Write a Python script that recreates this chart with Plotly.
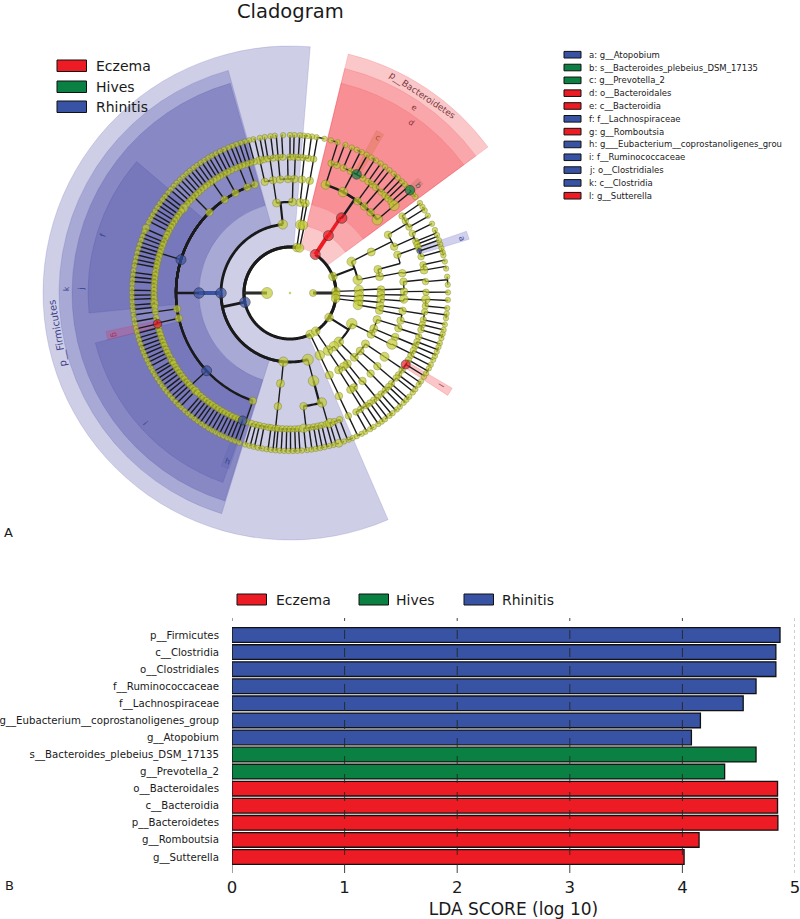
import math
import plotly.graph_objects as go

# ---------- LDA bar data ----------
taxa = ["p__Firmicutes", "c__Clostridia", "o__Clostridiales", "f__Ruminococcaceae", "f__Lachnospiraceae",
        "g__Eubacterium__coprostanoligenes_group", "g__Atopobium", "s__Bacteroides_plebeius_DSM_17135",
        "g__Prevotella_2", "o__Bacteroidales", "c__Bacteroidia", "p__Bacteroidetes", "g__Romboutsia", "g__Sutterella"]
lda_rhinitis = [4.867, 4.83, 4.83, 4.654, 4.54, 4.16, 4.08]
lda_hives = [4.654, 4.375]
lda_eczema = [4.845, 4.845, 4.848, 4.148, 4.015]
groups = ["Eczema", "Hives", "Rhinitis"]
group_color = {"Eczema": "#ed1c24", "Hives": "#0b8043", "Rhinitis": "#3953a4"}
x_ticks = [0, 1, 2, 3, 4, 5]

# ---------- legend of the cladogram ----------
key_labels = ["a: g__Atopobium", "b: s__Bacteroides_plebeius_DSM_17135", "c: g__Prevotella_2", "d: o__Bacteroidales",
              "e: c__Bacteroidia", "f: f__Lachnospiraceae", "g: g__Romboutsia",
              "h: g___Eubacterium__coprostanoligenes_grou", "i: f__Ruminococcaceae", "j: o__Clostridiales",
              "k: c__Clostridia", "l: g__Sutterella"]
key_groups = ["Rhinitis", "Hives", "Hives", "Eczema", "Eczema", "Rhinitis", "Eczema", "Rhinitis", "Rhinitis",
              "Rhinitis", "Rhinitis", "Eczema"]

# ---------- cladogram tree: angle of each node on its ring (degrees), keyed by parent angle ----------
ring_radius = [23, 46, 69, 91, 114, 136, 158]
kingdoms = [180, 0]
phylum_children = {180: [191.5, 81.5, 78, -64], 0: [56.7, 21, 2, -3, -7, -32, -56]}
class_children = {191.5: [96, 180, 264.5, 285], 56.7: [56.2], 81.5: [81.4], 78: [79.2], 21: [27, 11], 2: [2.5],
                  -3: [-2], -7: [-6, -10], -32: [-26.4, -45], -56: [-50.5, -56.6], -64: [-64.4]}
order_children = {96: [98.5, 88.5], 180: [180], 264.5: [264], 285: [285], 56.2: [55.4], 81.4: [83.6], 79.2: [80.3],
                  27: [26.8], 11: [15, 10.4], 2.5: [2], -2: [-1], -6: [-4], -10: [-8, -11], -26.4: [-17, -23, -27],
                  -45: [-34, -39.6, -45], -50.5: [-51], -56.6: [-54, -57.7], -64.4: [-64.4]}
family_children = {98.5: [102.8, 98.5], 88.5: [95, 91, 87.8], 83.6: [84], 80.3: [80],
                   180: [108, 112, 118.6, 125, 135, 163, 188, 192.8, 223, 251], 264: [263.9], 285: [276.8, 286.2],
                   55.4: [71.8, 62.3, 53.7, 49.4, 45, 40], 26.8: [30.7, 24], 15: [19.6], 10.4: [10], 2: [5.7],
                   -1: [0.7], -4: [-3], -8: [-9], -11: [-14], -17: [-18], -23: [-22.7], -27: [-26.6], -34: [-34],
                   -39.6: [-40], -45: [-45], -51: [-50.5], -54: [-55.9], -57.7: [-58], -64.4: [-64.6]}
genus_children = {102.8: [102.9, 101], 98.5: [99.3, 97], 95: [95, 93], 91: [90, 88.5], 87.8: [86.5, 84.5], 84: [82.2],
                  80: [80], 108: [105.2, 107, 108.7], 112: [110.4, 112, 113.8],
                  118.6: [115.6, 117.3, 119, 120.8, 122.3], 125: [124, 125.7, 127.4],
                  135: [129, 130.7, 132.4, 134, 135.8, 137.5, 139.2],
                  163: [141.4, 143, 144.8, 146.3, 148, 149.7, 151.2, 153, 154.6, 156, 158, 159.5, 161.2, 162.8, 164.3,
                        166, 167.7, 169.2, 171, 172.5, 174.2, 175.8, 177.5, 179, 180.8, 182.3, 184.4, 186],
                  188: [188], 192.8: [190.5, 193.1],
                  223: [194.8, 196.5, 198, 199.7, 201.3, 202.8, 204.5, 206, 207.7, 209.9, 211.2, 212.9, 214.4, 216,
                        217.7, 219.2, 221, 222.5, 224.2, 226, 227.3, 229, 230.5, 232.2, 233.8, 235.3, 237, 238.6,
                        240.2, 241.8, 243.4, 245, 246.6, 248, 249.6],
                  251: [251.2], 263.9: [253.6, 255.4, 257, 259, 260.8, 262, 263.8, 265, 266.8, 268.6, 270.2, 272, 273.6],
                  276.8: [275.8, 278, 280, 281.8, 283.5], 286.2: [285.5, 287, 289, 291.4],
                  71.8: [72.4, 69.8], 62.3: [66.9, 63.5, 60.7, 57.6], 53.7: [55, 52.8], 49.4: [50.9, 47.8],
                  45: [45.7, 44], 40: [42, 40], 30.7: [34.5, 32, 29], 24: [26, 22.3], 19.6: [21, 19.6, 18, 15.5],
                  10: [12, 9.7], 5.7: [4.8], 0.7: [0.3], -3: [-2.7, -5.5], -9: [-8, -11.4], -14: [-13.5, -15.7],
                  -18: [-18.8], -22.7: [-21, -23], -26.6: [-25, -27.3], -34: [-29.5, -31.7, -34.5, -37],
                  -40: [-38.7, -41.8], -45: [-43.5, -45.5, -48], -50.5: [-50, -52], -55.9: [-54, -56, -58.7],
                  -58: [-61], -64.6: [-64.6]}
species = [77.4, 80.3, 82, 83.5, 85, 86.4, 88.4, 90, 92.5, 95.5, 97.1, 99.2, 101, 103.4,
           105, 106.6, 108.2, 109.9, 111.5, 113, 114.7, 116.3, 118, 119.6, 121.1, 122.8, 124.4, 126.1, 127.6, 129.3,
           130.9, 132.5, 134.2, 135.8, 137.3, 139, 140.6, 142.3, 143.8, 145.5, 147.1, 148.7, 150.4, 152, 153.5, 155.7,
           157.2, 158.9, 160.4, 162.1, 163.7, 165.3, 167, 168.6, 170.1, 171.8, 173.4, 175.1, 176.6, 178.3, 179.9,
           181.5, 183.2, 184.8, 186.3, 188, 189.6, 191.2, 192.8, 194.3, 195.9, 197.4, 198.9, 200.5, 202, 203.5, 205.1,
           206.6, 208.2, 209.7, 211.2, 212.8, 214.3, 215.9, 217.4, 218.9, 220.5, 222, 223.6, 225.1, 226.6, 228.2,
           229.7, 231.3, 232.8, 234.3, 235.9, 237.4, 239, 240.5, 242, 243.6, 245.1, 246.7, 248.2, 249.7, 251.3,
           253.5, 255.1, 256.7, 258.3, 259.9, 261.5, 263.1, 264.7, 266.3, 267.9, 269.5, 271.1, 272.7, 274.3, 276.2,
           277.8, 279.4, 281, 282.6, 284.4, 286, 288, 290, 291.8, 293.4, 295,
           -63, -61.5, -59.5, -58, -56, -54.5, -53, -51, -49.5, -47.5, -46, -44, -42.5, -41, -39, -37.5, -35.5, -34,
           -32, -30.5, -28.5, -27, -25, -23.5, -21.8, -20, -18.5, -16.6, -15, -13.5, -11.5, -9.2, -7.5, -5.5, -2.5,
           0.2, 3, 5.9, 8.9, 11.5, 13.8, 15, 16.5, 18, 19.5, 21.5, 23.5, 26, 29.3, 31.5, 33, 34.7,
           37.5, 39, 40.6, 42, 43.5, 45, 47, 49, 51, 53, 55, 57, 59, 61, 63, 65, 67, 69.5, 72.5, 75]

# node diameters and enrichment
default_size = {1: 9, 2: 8.5, 3: 9.5, 4: 8, 5: 7.5, 6: 6.5, 7: 5.4}
size_override = {(1, 180): 11, (1, 0): 7, (2, 191.5): 10.5, (2, 56.7): 10, (3, 180): 10.5, (3, 56.2): 10, (4, 180): 10.5,
                 (4, 55.4): 10.5, (3, 285): 11, (4, 285): 10.5, (3, -26.4): 10.5, (3, 27): 9, (5, 163): 10,
                 (5, 223): 10, (5, 286.2): 9.5, (5, 40): 10.5, (5, 62.3): 9.5, (5, 71.8): 9, (5, -3): 8.5, (5, -26.6): 10.5,
                 (5, -34): 9, (5, 135): 7.5, (5, 108): 7.5, (6, 40): 10, (6, 60.7): 9.5, (6, 193.1): 8.5, (6, -31.7): 9,
                 (6, 249.6): 9, (6, 18): 5, (6, 141.4): 8.5, (6, 184.4): 8, (6, 209.9): 7.5, (6, 226): 8,
                 (6, 275.8): 8.5, (6, 287): 9, (6, -2.7): 8.5, (6, 9.7): 8, (6, 102.9): 8,
                 (7, 40.6): 9.5, (7, 155.7): 7.5, (7, 288): 8}
enriched = {"Eczema": [(2, 56.7), (3, 56.2), (4, 55.4), (6, 193.1), (6, -31.7)],
            "Hives": [(6, 60.7), (7, 40.6)],
            "Rhinitis": [(2, 191.5), (3, 180), (4, 180), (5, 163), (5, 223), (6, 249.6), (6, 18)]}
link_width = {(2, 180): 3, (2, 0): 3, (3, 191.5): 2.8, (3, 21): 2, (3, -32): 2.2, (4, 96): 2.2, (4, 180): 4, (4, 56.2): 3.5,
              (3, 56.7): 4, (5, 180): 2.4, (5, 55.4): 2.4, (5, 285): 2.2, (1, 180): 1.4}
link_color = {(4, 180): "#3953a4", (3, 56.7): "#ed1c24", (4, 56.2): "#ed1c24"}

# shaded clades: (theta start, theta end, inner radius, outer radius, group, opacity)
clade_start = [85.3, 105.5, 105.9, 139.4, 194.4, 36.4, 36.4, 36.4]
clade_end = [293.4, 252.8, 252.6, 185.7, 250.5, 76.3, 76.3, 76.3]
clade_inner = [46, 69, 91, 114, 114, 46, 69, 91]
clade_outer = [247, 231, 218, 202, 201, 246, 231, 216]
clade_group = ["Rhinitis", "Rhinitis", "Rhinitis", "Rhinitis", "Rhinitis", "Eczema", "Eczema", "Eczema"]
clade_alpha = [0.25, 0.25, 0.3, 0.22, 0.22, 0.27, 0.22, 0.2]
# narrow highlights: centre angle, from radius, to radius
band_theta = [18, 40.6, 60.7, 193.1, 249.6, -31.7]
band_inner = [136, 158, 136, 136, 136, 136]
band_outer = [187, 172, 184, 188, 186, 188]
band_tint = ["#5a5ac0", "#a06040", "#d87040", "#ed1c50", "#3953a4", "#ed1c24"]
band_alpha = [0.28, 0.2, 0.3, 0.2, 0.12, 0.25]

# clade labels
label_text = ["c", "d", "e", "a", "b", "f", "g", "h", "i", "j", "k", "l"]
label_radius = [179, 209.5, 223.5, 180.6, 167.5, 196, 180, 180, 195, 209, 224, 177]
label_theta = [60.6, 54.7, 56.3, 17.7, 40, 162.8, 193.5, 249.6, 222, 179, 179, -31.4]
label_color = ["#a34a3a", "#8a3438", "#8a3438", "#3a4a9a", "#5a5a5a", "#34408c", "#b03050", "#34408c", "#34408c",
               "#34408c", "#34408c", "#a04050"]

# ---------- page geometry ----------
W, H = 800, 919
CX, CY, R = 290, 293, 250
def px(x): return x / W
def py(y): return 1 - y / H
def polar_paper(r, th):
    a = math.radians(th)
    return px(CX + r * math.cos(a)), py(CY - r * math.sin(a))

fig = go.Figure()

def rgba(hexc, a):
    return f"rgba({int(hexc[1:3],16)},{int(hexc[3:5],16)},{int(hexc[5:7],16)},{a})"
wedge_tint = {"Rhinitis": "#3c3ca0", "Eczema": "#f0323c", "Hives": "#0b8043"}

# shaded clades
for s, e, i, o, g, a in zip(clade_start, clade_end, clade_inner, clade_outer, clade_group, clade_alpha):
    fig.add_trace(go.Barpolar(r=[o - i], base=[i], theta=[(s + e) / 2], width=[e - s],
                              marker=dict(color=rgba(wedge_tint[g], a), line=dict(color=rgba(wedge_tint[g], 0.3), width=0.5)),
                              showlegend=False, hoverinfo="skip", subplot="polar"))
for t, i, o, c, a in zip(band_theta, band_inner, band_outer, band_tint, band_alpha):
    fig.add_trace(go.Barpolar(r=[o - i], base=[i], theta=[t], width=[2.6],
                              marker=dict(color=rgba(c, a), line=dict(color=rgba(c, a + 0.1), width=0.5)),
                              showlegend=False, hoverinfo="skip", subplot="polar"))

# tree edges
def short_diff(a, b):
    return (b - a + 180) % 360 - 180

levels = [(2, phylum_children), (3, class_children), (4, order_children), (5, family_children), (6, genus_children)]
all_genera = [g for v in genus_children.values() for g in v]
species_children = {}
for sp in species:
    best = min(all_genera, key=lambda g: abs(short_diff(g, sp)))
    species_children.setdefault(best, []).append(sp)
levels.append((7, species_children))

edge_groups = {}
def add_edge(key, seg_r, seg_t):
    d = edge_groups.setdefault(key, ([], []))
    d[0].extend(seg_r + [None])
    d[1].extend(seg_t + [None])

for ring, table in levels:
    rp, rc = ring_radius[ring - 2], ring_radius[ring - 1]
    for parent, kids in table.items():
        w = link_width.get((ring, parent), 1.4)
        col = link_color.get((ring, parent), "#1a1a1a")
        add_edge((w, col), [rp, rc], [parent, parent])
        for k in kids:
            dtheta = short_diff(parent, k)
            n = max(1, int(abs(dtheta)))
            add_edge((w, "#111111" if col != "#1a1a1a" else col), [rc] * (n + 1),
                     [parent + dtheta * j / n for j in range(n + 1)])
for k in kingdoms:
    add_edge((1.3, "#333333"), [ring_radius[0], ring_radius[1]], [k, k])

for (w, col), (rr, tt) in edge_groups.items():
    fig.add_trace(go.Scatterpolar(r=rr, theta=tt, mode="lines", line=dict(color=col, width=w),
                                  showlegend=False, hoverinfo="skip", subplot="polar"))

# tree nodes
highlight = {n: g for g, lst in enriched.items() for n in lst}
nodes = [(1, k) for k in kingdoms]
for ring, table in levels:
    for kids in table.values():
        nodes.extend((ring, k) for k in kids)
plain = [n for n in nodes if n not in highlight]
def size_of(n): return size_override.get(n, default_size[n[0]])
fig.add_trace(go.Scatterpolar(r=[ring_radius[n[0] - 1] for n in plain], theta=[n[1] for n in plain], mode="markers",
                              marker=dict(color="#c3cc32", size=[size_of(n) for n in plain],
                                          line=dict(color="#70751c", width=0.6)),
                              showlegend=False, hoverinfo="skip", subplot="polar"))
fig.add_trace(go.Scatterpolar(r=[0], theta=[0], mode="markers", marker=dict(color="#c9cf6a", size=2.5),
                              showlegend=False, hoverinfo="skip", subplot="polar"))
for g, lst in enriched.items():
    fig.add_trace(go.Scatterpolar(r=[ring_radius[n[0] - 1] for n in lst], theta=[n[1] for n in lst], mode="markers",
                                  marker=dict(color=group_color[g], size=[size_of(n) for n in lst],
                                              line=dict(color="#222222", width=0.8)),
                                  showlegend=False, hoverinfo="skip", subplot="polar"))

# bars
bar_line = dict(color="#111111", width=1.3)
fig.add_trace(go.Bar(y=taxa[:7], x=lda_rhinitis, orientation="h", marker=dict(color=group_color["Rhinitis"], line=bar_line), showlegend=False, xaxis="x", yaxis="y"))
fig.add_trace(go.Bar(y=taxa[7:9], x=lda_hives, orientation="h", marker=dict(color=group_color["Hives"], line=bar_line), showlegend=False, xaxis="x", yaxis="y"))
fig.add_trace(go.Bar(y=taxa[9:], x=lda_eczema, orientation="h", marker=dict(color=group_color["Eczema"], line=bar_line), showlegend=False, xaxis="x", yaxis="y"))

shapes, ann = [], []
FONT = "DejaVu Sans"
def text(x, y, s, size, color="#1a1a1a", xanchor="left", rot=0):
    ann.append(dict(x=x, y=y, xref="paper", yref="paper", text=s, showarrow=False, xanchor=xanchor, yanchor="middle",
                    textangle=rot, font=dict(family=FONT, size=size, color=color)))
def patch(x0, x1, y0, y1, c):
    shapes.append(dict(type="rect", xref="paper", yref="paper", x0=px(x0), x1=px(x1), y0=py(y1), y1=py(y0),
                       fillcolor=c, line=dict(color="#111111", width=1)))

# dashed vertical grid over the bars
for t in x_ticks:
    shapes.append(dict(type="line", xref="x", yref="paper", x0=t, x1=t, y0=py(873), y1=py(618),
                       line=dict(color="rgba(35,35,35,0.85)" if t < 5 else "rgba(130,130,130,0.8)", width=1,
                                 dash="dash" if t < 5 else "dot"), layer="above"))

# top-left legend
for g, yy in zip(groups, [66, 87, 107]):
    patch(57, 86.5, yy - 6, yy + 5.5, group_color[g])
    text(px(94), py(yy), g, 14)
# taxa legend
for i, (lab, g) in enumerate(zip(key_labels, key_groups)):
    yy = 54.7 + i * 12.82
    patch(564, 581, yy - 3.3, yy + 3.3, group_color[g])
    text(px(587), py(yy), lab, 8.5)
# bar legend
for g, x0, xt in zip(groups, [237, 359, 464], [274, 394, 500]):
    patch(x0, x0 + 29.5, 594, 605, group_color[g])
    text(px(xt), py(600), g, 14)

text(px(290), py(11.7), "Cladogram", 19.5, xanchor="center")
text(px(2), py(532), "A", 13)
text(px(3), py(885), "B", 13)

# clade labels
for t, r, th, c in zip(label_text, label_radius, label_theta, label_color):
    xx, yy = polar_paper(r, th)
    rot = 90 - th
    if rot < -90:
        rot += 180
    text(xx, yy, t, 8, color=c, xanchor="center", rot=rot)
xx, yy = polar_paper(238, 56.3)
text(xx, yy, "p__Bacteroidetes", 9, color="#7a3a40", xanchor="center", rot=33.7)
xx, yy = polar_paper(235.4, 189.8)
text(xx, yy, "p__Firmicutes", 10, color="#3a3f8c", xanchor="center", rot=-100)

fig.update_layout(
    width=W, height=H, margin=dict(l=0, r=0, t=0, b=0), paper_bgcolor="white", plot_bgcolor="white",
    font=dict(family=FONT, color="#1a1a1a"), showlegend=False, barmode="overlay", bargap=0.14,
    shapes=shapes, annotations=ann,
    polar=dict(domain=dict(x=[px(CX - R), px(CX + R)], y=[py(CY + R), py(CY - R)]), bgcolor="rgba(0,0,0,0)",
               barmode="overlay",
               radialaxis=dict(visible=False, range=[0, R]),
               angularaxis=dict(visible=False, rotation=0, direction="counterclockwise")),
    xaxis=dict(domain=[px(232), px(795)], range=[0, 5], tickvals=x_ticks, showgrid=False, zeroline=False, showline=False,
               ticks="outside", ticklen=7, tickcolor="rgba(0,0,0,0)", anchor="y", automargin=False,
               ticklabeloverflow="allow",
               tickfont=dict(family=FONT, size=16.5, color="#1a1a1a"),
               title=dict(text="LDA SCORE (log 10)", font=dict(family=FONT, size=17, color="#1a1a1a"), standoff=8)),
    yaxis=dict(domain=[py(865.5), py(626.5)], type="category", categoryorder="array", categoryarray=taxa,
               range=[13.5, -0.5], showgrid=False, zeroline=False, showline=False, anchor="x", automargin=False,
               ticks="outside", ticklen=10, tickcolor="rgba(0,0,0,0)", ticklabeloverflow="allow",
               tickfont=dict(family=FONT, size=10.2, color="#1a1a1a")),
)
fig.write_html("out.html", post_script="document.body.style.margin='0';", config={"displayModeBar": False})
